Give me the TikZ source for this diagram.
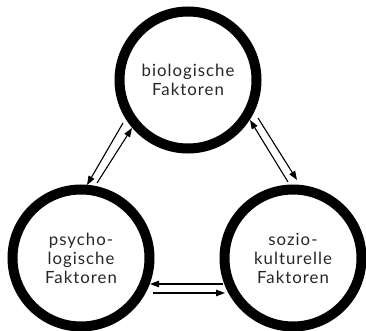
\documentclass[tikz,border=0pt]{standalone}
\usepackage{fontspec}
\setmainfont{Lato}[LetterSpace=6]
\usetikzlibrary{arrows.meta}
\begin{document}
\begin{tikzpicture}[x=1pt,y=-1pt,
  ring/.style={circle,draw=black,line width=10pt,minimum size=137pt,inner sep=0pt,
    align=center,font=\fontsize{16.8}{19}\selectfont,text=black!85},
  link/.style={line width=1.1pt,-{Triangle[length=9pt,width=6.5pt]}}]
\useasboundingbox (0,0) rectangle (366,331);
\node[ring] (bio) at (188,80) {biologische\\Faktoren};
\node[ring] (psy) at (81,258) {psycho-\\logische\\Faktoren};
\node[ring] (soz) at (293,258) {sozio-\\kulturelle\\Faktoren};
% left pair
\coordinate (l1s) at (123,123); \coordinate (l1e) at (87,185);
\coordinate (l2s) at (97,183);  \coordinate (l2e) at (132,128);
% right pair
\coordinate (r1s) at (288,182); \coordinate (r1e) at (250,120);
\coordinate (r2s) at (258,118); \coordinate (r2e) at (297,180);
% bottom pair
\coordinate (b1s) at (223,284); \coordinate (b1e) at (150,284);
\coordinate (b2s) at (153,293); \coordinate (b2e) at (225,293);
\draw[link] (l1s) -- (l1e);
\draw[link] (l2s) -- (l2e);
\draw[link] (r1s) -- (r1e);
\draw[link] (r2s) -- (r2e);
\draw[link] (b1s) -- (b1e);
\draw[link] (b2s) -- (b2e);
\end{tikzpicture}
\end{document}
